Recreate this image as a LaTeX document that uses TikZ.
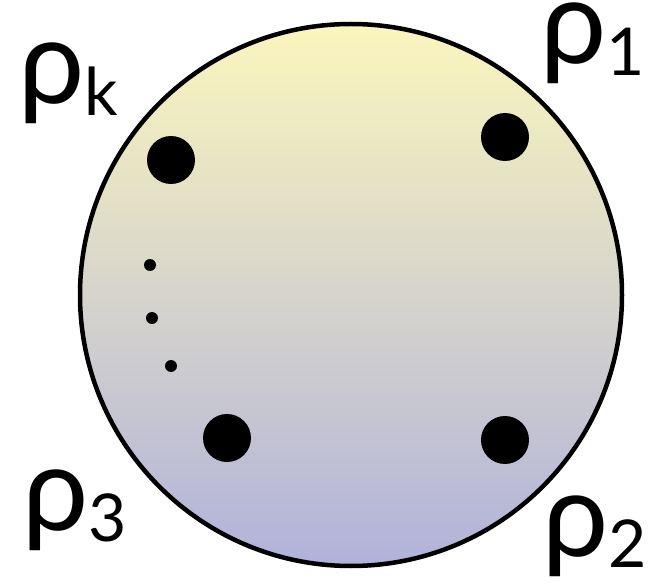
\documentclass[tikz,border=0pt]{standalone}
\usepackage{fontspec}
\setmainfont{Lato}
\usepackage{xcolor}
\usepackage{tikz}
\usetikzlibrary{positioning}
\definecolor{topyellow}{HTML}{FBF6BD}
\definecolor{botlilac}{HTML}{B1B2DA}
\newcommand{\rholabel}[1]{ρ\raisebox{-0.1em}{\fontsize{66}{66}\selectfont #1}}

\begin{document}
\begin{tikzpicture}[
  x=1pt,y=-1pt,
  font=\fontsize{118}{118}\selectfont,
  disk/.style={circle,draw,line width=4.5pt,minimum size=542pt,inner sep=0pt,top color=topyellow,bottom color=botlilac},
  bigdot/.style={circle,fill=black,minimum size=48pt,inner sep=0pt},
  smalldot/.style={circle,fill=black,minimum size=12pt,inner sep=0pt},
  lbl/.style={anchor=base west,inner sep=0pt}
]
\useasboundingbox (0,0) rectangle (649,583);
\node[disk] (D) at (351,295) {};
\node[bigdot] (P1) at (505,137) {};
\node[bigdot] (P2) at (505,440) {};
\node[bigdot] (P3) at (227,438) {};
\node[bigdot] (Pk) at (171,160) {};
\node[smalldot] (d1) at (150,265) {};
\node[smalldot] (d2) at (152,318) {};
\node[smalldot] (d3) at (171,366) {};
\node[lbl] (L1) at (540,64) {\rholabel{1}};
\node[lbl] (L2) at (542,556) {\rholabel{2}};
\node[lbl] (L3) at (22,530) {\rholabel{3}};
\node[lbl] (Lk) at (18,104) {\rholabel{k}};
\end{tikzpicture}
\end{document}
